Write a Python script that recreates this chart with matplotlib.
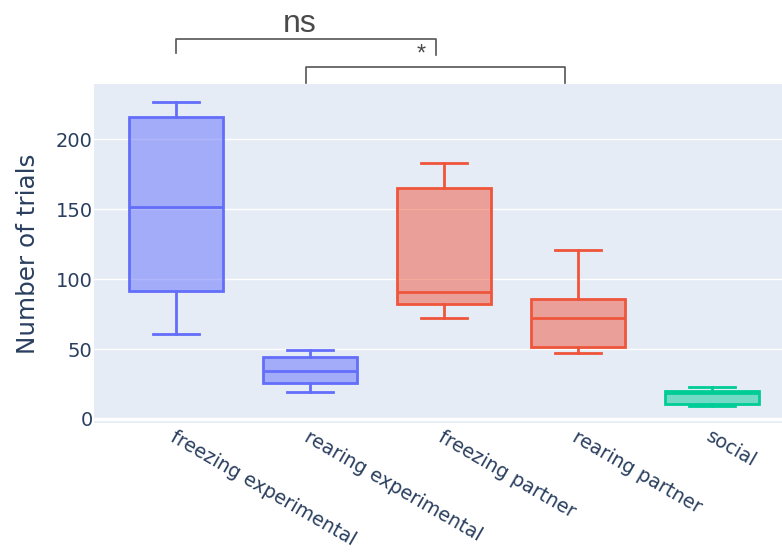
import matplotlib.pyplot as plt
from matplotlib.colors import to_rgba

categories = ['freezing experimental', 'rearing experimental', 'freezing partner',
              'rearing partner', 'social']
whisker_low = [61, 19.5, 72, 47, 9.5]
q1 = [91.5, 25.5, 82.5, 51.5, 10.5]
median = [152, 34, 91, 72.5, 18.5]
q3 = [216, 44.5, 165, 86, 20]
whisker_high = [227, 49, 183, 121, 23]
colors = ['#636EFA', '#636EFA', '#EF553B', '#EF553B', '#00CC96']

plt.rcParams['font.family'] = ['DejaVu Sans']
text_color = '#2a3f5f'

fig = plt.figure(figsize=(7.82, 5.52), dpi=100)
ax = fig.add_axes([0.1202, 0.2337, 0.8798, 0.6141])
ax.set_facecolor('#E5ECF6')

stats = []
for i, name in enumerate(categories):
    stats.append({'whislo': whisker_low[i], 'q1': q1[i], 'med': median[i],
                  'q3': q3[i], 'whishi': whisker_high[i], 'fliers': [], 'label': name})

for i, s in enumerate(stats):
    c = colors[i]
    ax.bxp([s], positions=[i], widths=0.70, patch_artist=True, showfliers=False,
           boxprops=dict(facecolor=to_rgba(c, 0.5), edgecolor=c, linewidth=2),
           medianprops=dict(color=c, linewidth=2),
           whiskerprops=dict(color=c, linewidth=2),
           capprops=dict(color=c, linewidth=2), capwidths=0.34,
           zorder=3)

ax.set_xlim(-0.612, 4.52)
ax.set_ylim(-2.9, 239.7)
ax.set_yticks([0, 50, 100, 150, 200])
ax.grid(axis='y', color='white', linewidth=1.0, zorder=0)
ax.axhline(0, color='white', linewidth=2.5, zorder=1)
for sp in ax.spines.values():
    sp.set_visible(False)
ax.tick_params(length=0, labelsize=14, colors=text_color)
ax.tick_params(axis='y', pad=1)
ax.set_xticks(range(len(categories)))
ax.set_xticklabels(categories, rotation=-30, ha='left', va='top',
                   rotation_mode='anchor', fontsize=13.8, color=text_color)
ax.tick_params(axis='x', pad=3)
ax.set_ylabel('Number of trials', fontsize=17.7, color=text_color, labelpad=11)

# significance brackets drawn above the plot area
tr = ax.get_xaxis_transform()
ax.plot([0.0, 0.0, 1.94, 1.94], [1.091, 1.134, 1.134, 1.086], color='#555555',
        linewidth=1.2, transform=tr, clip_on=False)
ax.text(0.92, 1.153, 'ns', transform=tr, ha='center', va='baseline',
        fontsize=23, color='#4a4a4a', family='Liberation Sans')
ax.plot([0.97, 0.97, 2.9, 2.9], [1.003, 1.051, 1.051, 1.003], color='#555555',
        linewidth=1.2, transform=tr, clip_on=False)
ax.text(1.83, 1.055, '*', transform=tr, ha='center', va='bottom',
        fontsize=17, color='#4a4a4a', family='Liberation Sans')

fig.savefig('out.png', dpi=100)
